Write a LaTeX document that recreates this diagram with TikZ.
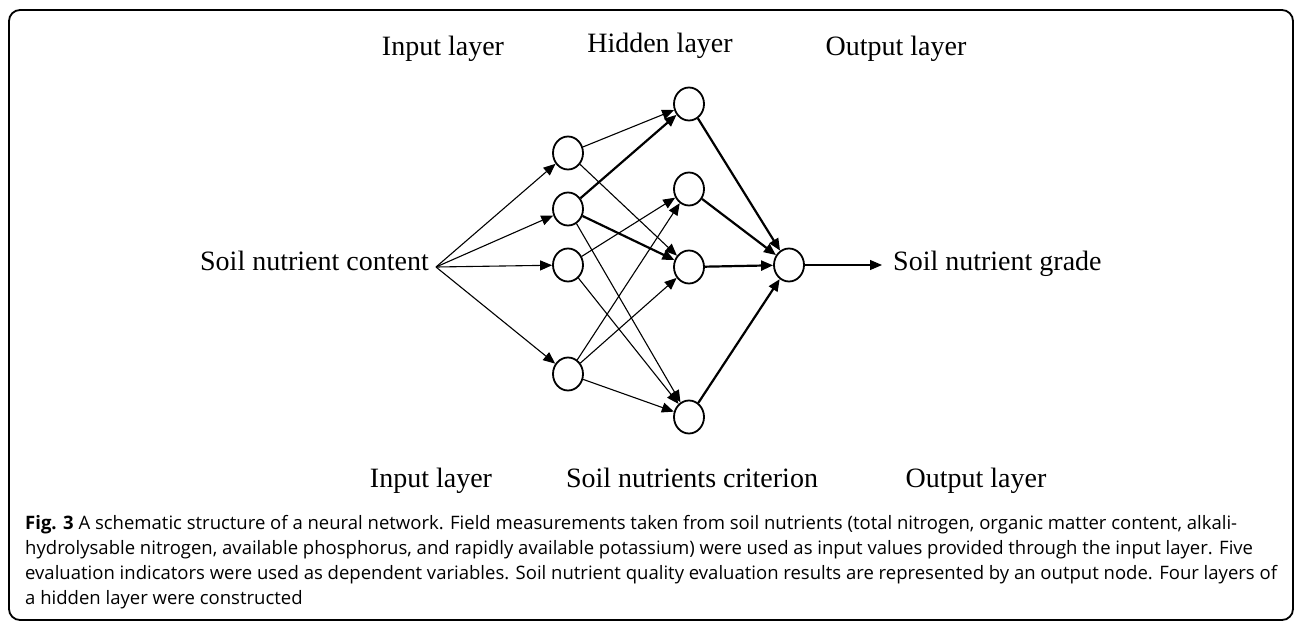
\documentclass[tikz,border=0pt]{standalone}
\usepackage{fontspec}
\setmainfont{Liberation Serif}
\newfontfamily\capfont{Open Sans}
\usetikzlibrary{arrows.meta,shapes.geometric}

% caption text, one macro per printed line
\newcommand\capstyle{\capfont\fontsize{16pt}{22pt}\selectfont}
\newcommand\capA{\textbf{Fig. 3} A schematic structure of a neural network. Field measurements taken from soil nutrients (total nitrogen, organic matter content, alkali-}
\newcommand\capB{hydrolysable nitrogen, available phosphorus, and rapidly available potassium) were used as input values provided through the input layer. Five}
\newcommand\capC{evaluation indicators were used as dependent variables. Soil nutrient quality evaluation results are represented by an output node. Four layers of}
\newcommand\capD{a hidden layer were constructed}
\newlength\capwidth

\begin{document}
% scale the caption so that its first line spans the frame
\settowidth\capwidth{\capstyle\capA}
\pgfmathsetmacro\capscale{1212/\capwidth}
\begin{tikzpicture}[x=1pt,y=-1pt,
  neuron/.style={draw, line width=1.8pt, ellipse, minimum width=30pt, minimum height=33pt, inner sep=0pt},
  thinlink/.style={line width=1.1pt, -{Triangle[length=12pt,width=10pt]}},
  thicklink/.style={line width=2.2pt, -{Triangle[length=12pt,width=10pt]}},
  lbl/.style={font=\fontsize{28}{28}\selectfont, anchor=base, inner sep=0pt},
  capline/.style={anchor=base west, inner sep=0pt}]

% page and frame
\fill[white] (0,0) rectangle (1296,622);
\useasboundingbox (0,0) rectangle (1296,622);
\draw[line width=1.8pt, rounded corners=11pt] (9,10) rectangle (1293,620);

% layer captions above
\node[lbl] (tin)  at (443,55) {Input layer};
\node[lbl] (thid) at (660,52) {Hidden layer};
\node[lbl] (tout) at (896,55) {Output layer};

% layer captions below
\node[lbl] (bin)  at (431,487) {Input layer};
\node[lbl] (bcri) at (692,487) {Soil nutrients criterion};
\node[lbl] (bout) at (976,487) {Output layer};

% input and output texts
\node[lbl, anchor=base east] (src) at (429,270) {Soil nutrient content};
\coordinate (fan) at (436,267);
\node[lbl, anchor=base west, inner xsep=11pt] (dst) at (882,270) {Soil nutrient grade};

% neurons
\node[neuron] (i1) at (568,153) {};
\node[neuron] (i2) at (568,209) {};
\node[neuron] (i3) at (568,265) {};
\node[neuron] (i4) at (568,374) {};

\node[neuron] (h1) at (689,104) {};
\node[neuron] (h2) at (689,189) {};
\node[neuron] (h3) at (689,267) {};
\node[neuron] (h4) at (689,417) {};

\node[neuron] (o) at (789,265) {};

% text to input layer
\foreach \n in {i1,i2,i3,i4} \draw[thinlink] (fan) -- (\n);

% input to hidden layer
\draw[thinlink] (i1) -- (h1);
\draw[thinlink] (i1) -- (h3);
\draw[thicklink] (i2) -- (h1);
\draw[thicklink] (i2) -- (h3);
\draw[thinlink] (i2) -- (h4);
\draw[thinlink] (i3) -- (h2);
\draw[thinlink] (i3) -- (h4);
\draw[thinlink] (i4) -- (h2);
\draw[thinlink] (i4) -- (h3);
\draw[thinlink] (i4) -- (h4);

% hidden to output layer
\foreach \n in {h1,h2,h3,h4} \draw[thicklink] (\n) -- (o);

% output to result
\draw[thinlink] (o) -- (o -| dst.west);

% figure caption
\node[capline] (c1) at (25,529) {\scalebox{\capscale}{\capstyle\capA}};
\node[capline] (c2) at (25,554) {\scalebox{\capscale}{\capstyle\capB}};
\node[capline] (c3) at (25,579) {\scalebox{\capscale}{\capstyle\capC}};
\node[capline] (c4) at (25,604) {\scalebox{\capscale}{\capstyle\capD}};
\end{tikzpicture}
\end{document}
